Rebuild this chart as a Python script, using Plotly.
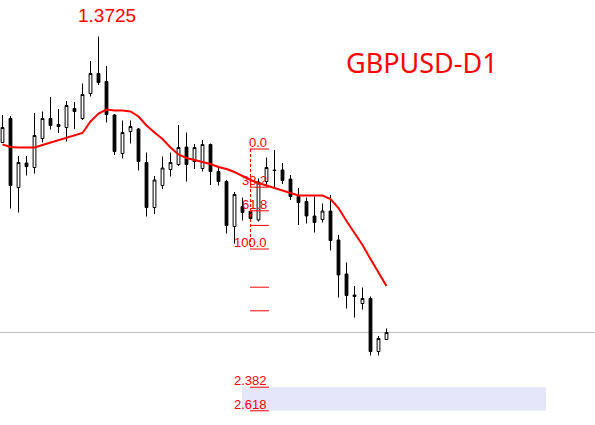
import plotly.graph_objects as go

# ---- data ----
opens = [1.3513, 1.3561, 1.3423, 1.3472, 1.3463, 1.3521, 1.3561, 1.3545, 1.3543, 1.3581,
         1.3561, 1.3611, 1.3651, 1.3635, 1.3568, 1.3491, 1.3535, 1.3540, 1.3473, 1.3383,
         1.3427, 1.3459, 1.3469, 1.3504, 1.3475, 1.3461, 1.3509, 1.3455, 1.3435, 1.3345,
         1.3385, 1.3375, 1.3358, 1.3435, 1.3458, 1.3458, 1.3440, 1.3405, 1.3395, 1.3366,
         1.3359, 1.3376, 1.3318, 1.3250, 1.3208, 1.3191, 1.3201, 1.3095, 1.3119]
highs = [1.3568, 1.3566, 1.3486, 1.3486, 1.3572, 1.3575, 1.3604, 1.3580, 1.3596, 1.3594,
         1.3631, 1.3676, 1.3725, 1.3666, 1.3570, 1.3557, 1.3557, 1.3542, 1.3493, 1.3446,
         1.3485, 1.3493, 1.3548, 1.3533, 1.3510, 1.3518, 1.3511, 1.3465, 1.3438, 1.3414,
         1.3403, 1.3380, 1.3441, 1.3483, 1.3498, 1.3472, 1.3448, 1.3422, 1.3403, 1.3405,
         1.3391, 1.3408, 1.3328, 1.3273, 1.3226, 1.3223, 1.3205, 1.3126, 1.3141]
lows = [1.3512, 1.3381, 1.3373, 1.3447, 1.3451, 1.3513, 1.3539, 1.3532, 1.3515, 1.3540,
        1.3558, 1.3605, 1.3628, 1.3553, 1.3488, 1.3481, 1.3511, 1.3457, 1.3365, 1.3370,
        1.3420, 1.3445, 1.3466, 1.3435, 1.3460, 1.3455, 1.3428, 1.3427, 1.3331, 1.3311,
        1.3357, 1.3354, 1.3355, 1.3425, 1.3424, 1.3430, 1.3398, 1.3348, 1.3351, 1.3333,
        1.3353, 1.3297, 1.3203, 1.3181, 1.3163, 1.3179, 1.3087, 1.3087, 1.3119]
closes = [1.3543, 1.3427, 1.3473, 1.3465, 1.3527, 1.3561, 1.3547, 1.3549, 1.3587, 1.3575,
          1.3609, 1.3651, 1.3633, 1.3569, 1.3495, 1.3533, 1.3545, 1.3475, 1.3383, 1.3438,
          1.3462, 1.3473, 1.3503, 1.3469, 1.3503, 1.3509, 1.3455, 1.3435, 1.3347, 1.3409,
          1.3373, 1.3361, 1.3434, 1.3463, 1.3457, 1.3437, 1.3405, 1.3393, 1.3366, 1.3353,
          1.3376, 1.3317, 1.3248, 1.3207, 1.3205, 1.3201, 1.3095, 1.3121, 1.3133]
ma_values = [1.3509, 1.3504, 1.3503, 1.3503, 1.3503, 1.3508, 1.3513, 1.3517, 1.3523, 1.3527,
             1.3532, 1.3555, 1.3571, 1.3579, 1.3577, 1.3577, 1.3575, 1.3565, 1.3547, 1.3533,
             1.3520, 1.3503, 1.3489, 1.3482, 1.3478, 1.3475, 1.3470, 1.3464, 1.3460, 1.3454,
             1.3446, 1.3438, 1.3432, 1.3427, 1.3423, 1.3418, 1.3412, 1.3407, 1.3407, 1.3407,
             1.3407, 1.3400, 1.3382, 1.3356, 1.3332, 1.3308, 1.3280, 1.3252, 1.3226]
bars = list(range(len(opens)))

fib_high = 1.3500
fib_low = 1.3300
fib_levels = [0.0, 0.382, 0.618, 0.764, 1.0, 1.382, 1.618, 2.382, 2.618]
fib_labels = ["0.0", "38.2", "61.8", "", "100.0", "", "", "2.382", "2.618"]
symbol = "GBPUSD-D1"

# ---- figure ----
fig = go.Figure()

fib_prices = [fib_high - lv * (fib_high - fib_low) for lv in fib_levels]

# lavender zone between the two last extension levels
fig.add_shape(type="rect", xref="x", yref="y", x0=29.94, x1=67.94,
              y0=fib_prices[-1], y1=fib_prices[-2],
              fillcolor="#E6E6FA", line_width=0, layer="below")

# current price line
fig.add_shape(type="line", xref="paper", yref="y", x0=0, x1=1,
              y0=closes[-1], y1=closes[-1],
              line=dict(color="#C0C0C0", width=1), layer="below")

fig.add_trace(go.Candlestick(
    x=bars, open=opens, high=highs, low=lows, close=closes,
    increasing=dict(fillcolor="white", line=dict(color="black", width=1)),
    decreasing=dict(fillcolor="black", line=dict(color="black", width=1)),
    whiskerwidth=0, hoverinfo="skip", showlegend=False))

fig.add_trace(go.Scatter(x=bars, y=ma_values, mode="lines",
                         line=dict(color="#FF0000", width=2),
                         hoverinfo="skip", showlegend=False))

# fibonacci levels
for p, lab in zip(fib_prices, fib_labels):
    fig.add_shape(type="line", xref="x", yref="y", x0=30.94, x1=33.31, y0=p, y1=p,
                  line=dict(color="#FF0000", width=1), layer="above")
    if lab:
        fig.add_annotation(x=33.25, y=p, xref="x", yref="y", text=lab,
                           showarrow=False, xanchor="right", yanchor="bottom",
                           yshift=-3,
                           font=dict(family="Liberation Sans, Arial", size=13, color="#FF0000"))

fig.add_shape(type="line", xref="x", yref="y", x0=31.0, x1=31.0,
              y0=fib_prices[0], y1=fib_prices[4],
              line=dict(color="#FF0000", width=1, dash="3px,2px"), layer="above")

# labels
fig.add_annotation(x=13.0, y=1.3768, xref="x", yref="y", text=f"{max(highs):.4f}",
                   showarrow=False, xanchor="center", yanchor="middle",
                   font=dict(family="Liberation Sans, Arial", size=19, color="#FF0000"))
fig.add_annotation(x=0.71, y=0.852, xref="paper", yref="paper", text=symbol,
                   showarrow=False, xanchor="center", yanchor="middle",
                   font=dict(family="Noto Sans", size=27, color="#FF0000"))

fig.update_layout(
    width=595, height=425, margin=dict(l=0, r=0, t=0, b=0),
    paper_bgcolor="white", plot_bgcolor="white", showlegend=False,
    boxgap=0.5,
    xaxis=dict(range=[-0.3125, 74.0625], visible=False, rangeslider=dict(visible=False),
               showgrid=False, zeroline=False, fixedrange=True),
    yaxis=dict(range=[1.2948, 1.3798], visible=False, showgrid=False, zeroline=False,
               fixedrange=True),
)

fig.write_html("out.html", config={"displayModeBar": False},
               post_script="document.body.style.margin='0';document.body.style.overflow='hidden';")
